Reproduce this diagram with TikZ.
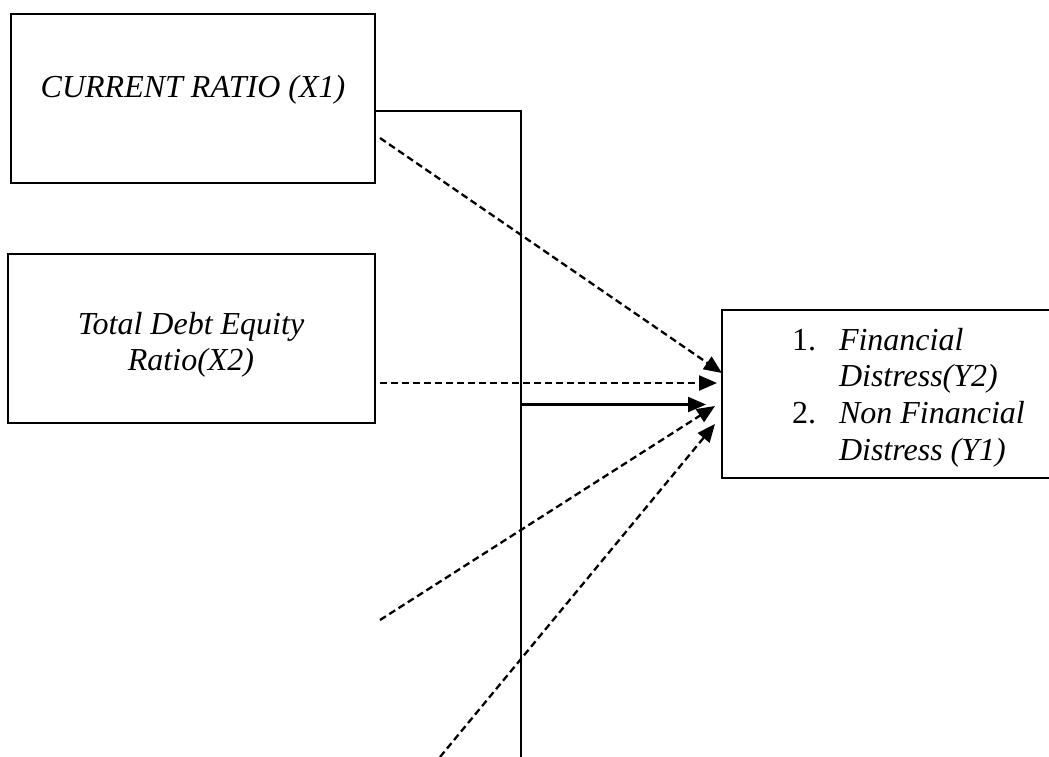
\documentclass[tikz,border=0pt]{standalone}
\usepackage{fontspec}
\setmainfont{Liberation Serif}
\usetikzlibrary{arrows.meta}
\tikzset{
  box/.style={draw, line width=2.3pt, rectangle, inner sep=0pt, outer sep=0pt},
  lbl/.style={inner sep=0pt, outer sep=0pt, font=\fontsize{32pt}{36.8pt}\selectfont\itshape},
  conn/.style={line width=2.3pt},
  dsh/.style={conn, dash pattern=on 7pt off 4pt},
  arr/.style={-{Triangle[length=18pt,width=15pt]}}
}
\begin{document}
\begin{tikzpicture}[x=1pt,y=-1pt]
\useasboundingbox (0,0) rectangle (1049,756);
\clip (0,0) rectangle (1049,756);
\fill[white] (0,0) rectangle (1049,756);
% boxes
\node[box, minimum width=364pt, minimum height=169pt] (b1) at (193,98.5) {};
\node[box, minimum width=367pt, minimum height=169pt] (b2) at (191.5,338.5) {};
\node[box, minimum width=343pt, minimum height=168pt] (b3) at (893.5,394) {};
% texts
\node[lbl, anchor=base] (t1) at (193,97) {CURRENT RATIO (X1)};
\node[lbl, anchor=base] (t2) at (191,334) {\begin{tabular}[t]{@{}c@{}}Total Debt Equity\\Ratio(X2)\end{tabular}};
\node[lbl, anchor=base west] (t3) at (792,350) {\begin{tabular}[t]{@{}l@{}l@{}}
\makebox[47pt][l]{\upshape 1.} & Financial\\
 & Distress(Y2)\\
\makebox[47pt][l]{\upshape 2.} & Non Financial\\
 & Distress (Y1)
\end{tabular}};
% coordinates
\coordinate (h1) at (375,111);
\coordinate (v1) at (521,111);
\coordinate (v2) at (521,760);
\coordinate (j) at (521,404.5);
\coordinate (e3) at (706,404.5);
\coordinate (s1) at (380,138);
\coordinate (e1) at (722,373);
\coordinate (s2) at (380,383);
\coordinate (e2) at (717,383);
\coordinate (s4) at (380,620);
\coordinate (e4) at (715,406);
\coordinate (s5) at (440,757);
\coordinate (e5) at (715,424);
% solid connectors
\draw[conn] (h1) -- (v1) -- (v2);
\draw[conn, arr] (j) -- (e3);
% dashed connectors
\draw[dsh, arr] (s1) -- (e1);
\draw[dsh, arr] (s2) -- (e2);
\draw[dsh, arr] (s4) -- (e4);
\draw[dsh, arr] (s5) -- (e5);
\end{tikzpicture}
\end{document}
